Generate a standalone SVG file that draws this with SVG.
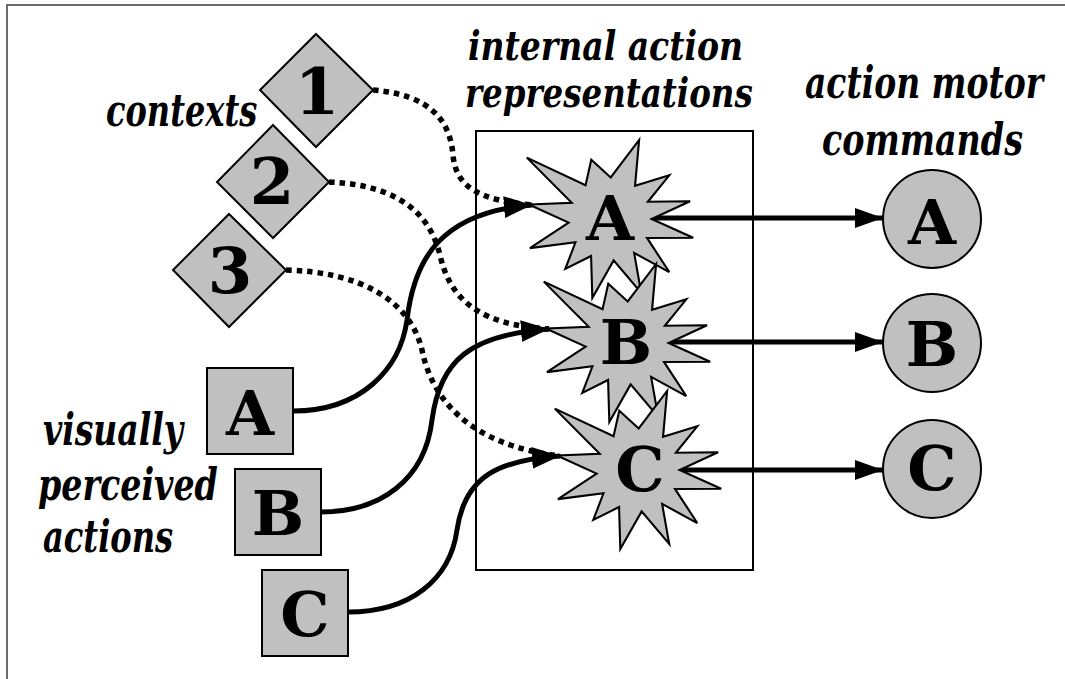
<svg xmlns="http://www.w3.org/2000/svg" width="1065" height="679" viewBox="0 0 1065 679">
<defs>
<marker id="ah" markerUnits="userSpaceOnUse" markerWidth="30" markerHeight="24" refX="28" refY="11" orient="auto">
<path d="M0,0 L28,11 L0,22 z" fill="#000"/>
</marker>
<marker id="ah2" markerUnits="userSpaceOnUse" markerWidth="30" markerHeight="22" refX="28" refY="10" orient="auto">
<path d="M0,0 L28,10 L0,20 z" fill="#000"/>
</marker>
<polygon id="star" points="-78,-14 -36.8,-15.6 -80,-59 -23.5,-32.4 -18,-57 0.7,-40 28,-76 24.1,-31.9 57,-42 36.4,-16.6 77,-17 40,0 80,18 35.6,18.2 57,51 23.2,32.6 30,71 3.5,39.8 -17,76 -18.2,35.6 -43,48 -33.2,22.4 -77,28 -39.8,3.5"/>
</defs>
<rect width="1065" height="679" fill="#fff"/>
<path d="M7,679 L7,5 L1065,5" fill="none" stroke="#6a6a6a" stroke-width="2"/>

<g id="labels" font-family="DejaVu Serif, serif" font-weight="bold" font-style="italic" font-size="44">
<text transform="translate(106,126) scale(0.7,1)" textLength="216" lengthAdjust="spacingAndGlyphs">contexts</text>
<text transform="translate(468,60) scale(0.7,1)" font-size="41" textLength="393" lengthAdjust="spacingAndGlyphs">internal action</text>
<text transform="translate(465,107) scale(0.7,1)" font-size="41" textLength="411" lengthAdjust="spacingAndGlyphs">representations</text>
<text transform="translate(805,98) scale(0.7,1)" textLength="340" lengthAdjust="spacingAndGlyphs">action motor</text>
<text transform="translate(822,155) scale(0.7,1)" textLength="287" lengthAdjust="spacingAndGlyphs">commands</text>
<text transform="translate(43,445) scale(0.7,1)" textLength="200" lengthAdjust="spacingAndGlyphs">visually</text>
<text transform="translate(38,500) scale(0.7,1)" textLength="257" lengthAdjust="spacingAndGlyphs">perceived</text>
<text transform="translate(43,552) scale(0.7,1)" textLength="186" lengthAdjust="spacingAndGlyphs">actions</text>
</g>

<g id="internal-box">
<rect x="476" y="131" width="277" height="439" fill="none" stroke="#000" stroke-width="2"/>
</g>

<g id="connectors" fill="none" stroke="#000">
<g stroke-width="5.5" stroke-dasharray="5.5 5">
<path d="M373,90 C430,95 450,120 453,155 C456,188 480,200 532,205"/>
<path d="M329,182 C400,185 430,215 440,255 C450,300 480,325 549,329"/>
<path d="M286,270 C360,272 410,300 422,350 C432,400 470,445 560,456"/>
</g>
<g stroke-width="5">
<path d="M293,411 C360,411 400,370 407,320 C414,260 440,212 532,205" marker-end="url(#ah)"/>
<path d="M321,512 C380,512 425,480 432,420 C440,360 470,335 549,329" marker-end="url(#ah)"/>
<path d="M348,612 C410,612 450,580 457,530 C465,475 500,460 560,456" marker-end="url(#ah)"/>
<path d="M650,218 L883,218" marker-end="url(#ah2)"/>
<path d="M667,342 L883,342" marker-end="url(#ah2)"/>
<path d="M678,470 L883,470" marker-end="url(#ah2)"/>
</g>
</g>

<g font-family="DejaVu Serif, serif" font-weight="bold" font-size="62" text-anchor="middle">
<g id="context-1"><polygon fill="#c0c0c0" stroke="#000" stroke-width="2" points="316,34 373,90 316,147 260,90"/><text x="317" y="114" font-size="64">1</text></g>
<g id="context-2"><polygon fill="#c0c0c0" stroke="#000" stroke-width="2" points="273,125 329,182 273,238 217,182"/><text x="272" y="204" font-size="64">2</text></g>
<g id="context-3"><polygon fill="#c0c0c0" stroke="#000" stroke-width="2" points="229,214 286,270 229,327 173,270"/><text x="230" y="293" font-size="64">3</text></g>

<g id="visual-A"><rect fill="#c0c0c0" stroke="#000" stroke-width="2" x="207" y="368" width="86" height="86"/><text x="250" y="435">A</text></g>
<g id="visual-B"><rect fill="#c0c0c0" stroke="#000" stroke-width="2" x="235" y="469" width="86" height="86"/><text x="278" y="535">B</text></g>
<g id="visual-C"><rect fill="#c0c0c0" stroke="#000" stroke-width="2" x="262" y="570" width="86" height="86"/><text x="305" y="636">C</text></g>

<g id="internal-A"><use href="#star" fill="#c0c0c0" stroke="#000" stroke-width="2" transform="translate(610,219) scale(1.04)"/><text x="610" y="240">A</text></g>
<g id="internal-B"><use href="#star" fill="#c0c0c0" stroke="#000" stroke-width="2" transform="translate(627,343) scale(1.04)"/><text x="626" y="364">B</text></g>
<g id="internal-C"><use href="#star" fill="#c0c0c0" stroke="#000" stroke-width="2" transform="translate(638,470) scale(1.04)"/><text x="640" y="491">C</text></g>

<g id="motor-A"><circle fill="#c0c0c0" stroke="#000" stroke-width="2" cx="932" cy="219" r="49"/><text x="932" y="244">A</text></g>
<g id="motor-B"><circle fill="#c0c0c0" stroke="#000" stroke-width="2" cx="932" cy="343" r="49"/><text x="932" y="366">B</text></g>
<g id="motor-C"><circle fill="#c0c0c0" stroke="#000" stroke-width="2" cx="932" cy="469" r="49"/><text x="932" y="490">C</text></g>
</g>
</svg>
